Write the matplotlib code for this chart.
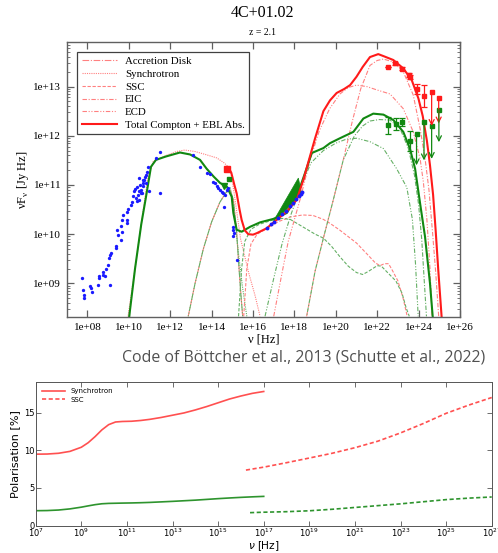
import matplotlib
matplotlib.use("Agg")
import matplotlib.pyplot as plt
import numpy as np
from matplotlib.ticker import FixedLocator, FuncFormatter, LogLocator, NullLocator

RED, LRED = "#ff1a1a", "#ff8080"
GREEN, LGREEN = "#118811", "#66b066"
BLUE = "#1a1aff"
FRAME = "#606060"

# ---- SED model curves, (log10 nu [Hz], log10 nuFnu [Jy Hz]) ----
disk_lnu = [12.87, 13.2, 13.6, 14.0, 14.4, 14.7, 14.9, 15.05, 15.2, 15.3, 15.4, 15.5]
disk_lf = [8.33, 9.0, 9.7, 10.25, 10.65, 10.85, 10.9, 10.7, 10.1, 9.45, 8.85, 8.33]

red_sync_lnu = [9.95, 10.3, 10.6, 10.9, 11.18, 11.8, 12.3, 12.7, 13.2, 13.7, 14.25,
                14.6, 14.9, 15.1, 15.4, 15.8, 16.1, 16.34]
red_sync_lf = [8.3, 9.3, 10.2, 11.1, 11.48, 11.6, 11.68, 11.71, 11.68, 11.62, 11.55,
               11.45, 11.33, 10.8, 9.9, 9.2, 8.75, 8.33]
green_sync_lnu = [14.9, 15.1, 15.3, 15.5, 15.7]
green_sync_lf = [10.95, 10.4, 9.6, 8.9, 8.33]

red_ssc_lnu = [15.55, 15.7, 15.9, 16.2, 16.7, 17.2, 17.8, 18.4, 18.9, 19.4, 19.72, 20.2,
               20.6, 21.0, 21.5, 21.9, 22.13, 22.35, 22.55, 22.75, 23.0, 23.25, 23.45]
red_ssc_lf = [8.33, 9.3, 9.8, 10.0, 10.12, 10.25, 10.35, 10.39, 10.38, 10.3, 10.22, 10.08,
              9.95, 9.82, 9.6, 9.42, 9.36, 9.4, 9.4, 9.25, 9.05, 8.7, 8.33]
green_ssc_lnu = [15.3, 15.45, 15.6, 15.9, 16.3, 16.9, 17.4, 17.8, 18.4, 19.0, 19.4, 19.8,
                 20.2, 20.6, 21.0, 21.3, 21.6, 22.0, 22.2, 22.5, 22.9, 23.2, 23.4, 23.55]
green_ssc_lf = [8.33, 9.3, 9.85, 10.1, 10.2, 10.28, 10.32, 10.3, 10.15, 10.0, 9.92, 9.75,
                9.54, 9.35, 9.22, 9.18, 9.25, 9.36, 9.35, 9.22, 9.05, 8.8, 8.5, 8.33]

red_ecd_lnu = [17.0, 17.35, 17.7, 18.27, 18.75, 19.2, 19.7, 20.2, 20.6, 21.0, 21.5, 22.0,
               22.62, 23.26, 23.74, 24.07, 24.23, 24.4, 24.55, 24.65]
red_ecd_lf = [8.33, 9.1, 9.85, 10.7, 11.5, 12.1, 12.55, 12.85, 12.98, 13.03, 13.0, 12.93,
              12.85, 12.55, 12.08, 11.54, 11.06, 10.3, 9.3, 8.33]
green_ecd_lnu = [16.58, 17.0, 17.4, 17.8, 18.3, 18.8, 19.4, 20.0, 20.5, 21.0, 21.65, 22.3,
                 22.94, 23.43, 23.7, 23.85, 23.98]
green_ecd_lf = [8.33, 9.1, 9.8, 10.36, 10.95, 11.45, 11.7, 11.85, 11.93, 11.95, 11.88,
                11.74, 11.33, 10.95, 10.3, 9.4, 8.33]

red_eic_lnu = [18.59, 19.0, 19.4, 19.88, 20.36, 20.8, 21.2, 21.65, 22.0, 22.3, 22.78, 23.26,
               23.74, 24.07, 24.31, 24.5, 24.68, 24.83, 24.97]
red_eic_lf = [8.33, 9.25, 9.92, 10.7, 11.51, 12.3, 12.95, 13.43, 13.53, 13.56, 13.5, 13.3,
              12.83, 12.15, 11.54, 10.9, 10.0, 9.2, 8.33]
green_eic_lnu = [18.59, 19.0, 19.4, 19.88, 20.36, 20.9, 21.3, 21.65, 22.1, 22.62, 23.1, 23.5,
                 23.8, 24.0, 24.15, 24.28, 24.38]
green_eic_lf = [8.33, 9.25, 9.92, 10.7, 11.51, 12.0, 12.2, 12.3, 12.33, 12.32, 12.15, 11.75,
                11.2, 10.6, 9.9, 9.0, 8.33]

red_tot_lnu = [14.85, 14.95, 15.1, 15.21, 15.35, 15.45, 15.6, 15.77, 16.0, 16.18, 16.66,
               17.14, 17.63, 18.11, 18.43, 18.75, 19.0, 19.4, 19.72, 20.04, 20.4, 20.69,
               21.0, 21.3, 21.65, 22.05, 22.3, 22.78, 23.26, 23.67, 23.99, 24.2, 24.4,
               24.55, 24.7, 24.82, 24.95, 25.11]
red_tot_lf = [11.32, 11.25, 11.0, 10.83, 10.5, 10.29, 10.08, 10.0, 9.99, 10.02, 10.12,
              10.29, 10.46, 10.7, 11.1, 11.58, 11.95, 12.5, 12.72, 12.87, 12.95, 13.03,
              13.2, 13.4, 13.6, 13.66, 13.62, 13.54, 13.37, 13.13, 12.76, 12.4, 11.9,
              11.4, 10.8, 10.1, 9.27, 8.33]
green_tot_lnu = [10.02, 10.3, 10.6, 10.83, 11.07, 11.31, 11.8, 12.47, 12.96, 13.44, 13.76,
                 14.1, 14.41, 14.73, 14.97, 15.05, 15.21, 15.45, 15.86, 16.34, 16.98, 17.63,
                 18.11, 18.51, 18.84, 19.4, 19.72, 20.2, 20.85, 21.33, 21.81, 22.3, 22.78,
                 23.26, 23.58, 23.83, 24.07, 24.31, 24.55, 24.68]
green_tot_lf = [8.33, 9.3, 10.2, 10.76, 11.37, 11.51, 11.58, 11.66, 11.62, 11.51, 11.33,
                11.17, 11.04, 10.97, 10.76, 10.43, 10.09, 10.05, 10.15, 10.24, 10.31, 10.43,
                10.76, 11.24, 11.65, 11.75, 11.85, 11.95, 12.08, 12.35, 12.45, 12.43, 12.32,
                12.08, 11.74, 11.33, 10.63, 9.95, 9.0, 8.33]

# ---- observations ----
radio_lnu = [7.74, 7.80, 7.85, 7.85, 8.13, 8.22, 8.17, 8.50, 8.54, 8.58, 8.74, 8.77, 8.87,
             8.90, 8.98, 9.09, 9.06, 9.11, 9.14, 9.38, 9.38, 9.41, 9.46, 9.62, 9.62, 9.66,
             9.70, 9.67, 9.90, 9.91, 9.93, 9.96, 10.11, 10.15, 10.19, 10.27, 10.32, 10.35,
             10.40, 10.43, 10.48, 10.51, 10.54, 10.59, 10.59, 10.67, 10.70, 10.75, 10.77,
             10.83, 10.86, 10.91, 10.96, 10.51, 10.67, 10.83, 11.31, 11.51, 11.52, 10.64, 10.38]
radio_lf = [9.11, 8.87, 8.77, 8.70, 8.95, 8.82, 8.90, 8.97, 9.11, 9.14, 9.24, 9.17, 9.14,
            9.29, 9.38, 8.97, 9.51, 9.58, 9.61, 9.75, 9.71, 10.09, 9.99, 9.88, 10.16, 10.29,
            10.39, 10.05, 10.22, 10.29, 10.46, 10.51, 10.60, 10.66, 10.77, 10.87, 10.91, 10.73,
            10.95, 10.80, 10.70, 10.87, 11.0, 10.90, 10.83, 10.97, 11.04, 11.10, 11.17,
            11.21, 11.27, 11.37, 10.87, 11.14, 11.10, 11.04, 11.54, 11.68, 10.83, 10.83, 10.68]
opt_lnu = [13.12, 13.44, 13.76, 13.92, 14.08, 14.17, 14.25, 14.33, 14.41, 14.49, 14.57,
           14.65, 14.73, 14.81, 14.61, 15.05, 15.05, 15.08, 15.05, 15.24]
opt_lf = [11.6, 11.37, 11.24, 11.22, 11.07, 11.04, 10.97, 10.94, 10.90, 10.86, 10.83, 10.8,
          10.9, 10.93, 10.56, 10.15, 10.08, 10.02, 9.96, 9.48]
xray_lnu = [16.66, 16.85, 17.0, 17.2, 17.4, 17.6, 17.8, 17.95, 18.1, 18.2, 18.3, 18.38]
xray_lf = [10.12, 10.2, 10.25, 10.32, 10.4, 10.48, 10.57, 10.64, 10.72, 10.77, 10.82, 10.85]
bowtie_lnu = [16.98, 18.19, 18.35, 16.98]
bowtie_lf = [10.26, 11.14, 10.83, 10.22]

red_lat_lnu = [22.54, 22.88, 23.22, 23.53, 23.57, 23.9, 24.26]
red_lat_lf = [13.40, 13.47, 13.36, 13.24, 13.19, 12.95, 12.81]
red_lat_err = [0.0, 0.03, 0.03, 0.04, 0.04, 0.1, 0.22]
red_ul_lnu = [24.63, 24.97]
red_ul_lf = [12.88, 12.77]
red_ul_to = [12.2, 12.25]
green_lat_lnu = [22.52, 22.89, 23.22, 23.58]
green_lat_lf = [12.21, 12.24, 12.28, 11.9]
green_lat_err = [0.17, 0.12, 0.09, 0.2]
green_ul_lnu = [23.9, 24.26, 24.63, 24.98]
green_ul_lf = [12.04, 12.27, 12.2, 12.53]
green_ul_to = [11.4, 11.5, 11.53, 11.87]

# ---- polarisation panel ----
pol_sync_lnu = [7, 7.5, 8, 8.5, 9, 9.3, 9.6, 9.9, 10.2, 10.5, 10.8, 11.2, 11.6, 12, 12.5,
                13, 13.5, 14, 14.5, 15, 15.5, 16, 16.5, 17]
pol_sync_red = [9.48, 9.5, 9.6, 9.85, 10.4, 11.0, 11.8, 12.7, 13.4, 13.75, 13.82, 13.85,
                13.95, 14.1, 14.35, 14.65, 14.95, 15.35, 15.8, 16.3, 16.8, 17.2, 17.55, 17.8]
pol_sync_green = [1.98, 2.0, 2.07, 2.22, 2.45, 2.62, 2.78, 2.9, 2.95, 2.97, 2.99, 3.01,
                  3.04, 3.08, 3.15, 3.22, 3.3, 3.38, 3.48, 3.58, 3.67, 3.75, 3.82, 3.88]
pol_ssc_red_lnu = [16.22, 17, 18, 19, 20, 21, 22, 23, 24, 25, 26, 27]
pol_ssc_red = [7.37, 7.76, 8.35, 8.97, 9.6, 10.34, 11.2, 12.3, 13.55, 14.9, 16.0, 17.0]
pol_ssc_green_lnu = [16.4, 17, 18, 19, 20, 21, 22, 23, 24, 25, 26, 27]
pol_ssc_green = [1.72, 1.78, 1.85, 1.97, 2.17, 2.41, 2.65, 2.89, 3.17, 3.45, 3.65, 3.8]

P = lambda a: 10.0 ** np.asarray(a)

fig = plt.figure(figsize=(4.98, 5.53), dpi=100)
ax = fig.add_axes([0.134, 0.4262, 0.7897, 0.4973])
serif = "Liberation Serif"

lw_thin = 0.8
st_disk = (0, (6, 1.5, 1, 1.5))
st_sync = (0, (1, 1))
st_ssc = (0, (3, 1.5))
st_eic = (0, (4, 1.5, 1, 1.5))
st_ecd = (0, (4, 1.5, 1, 1.5, 1, 1.5))

ax.plot(P(disk_lnu), P(disk_lf), color=LRED, lw=lw_thin, ls=st_disk, label="Accretion Disk")
ax.plot(P(disk_lnu), P(disk_lf), color=LGREEN, lw=lw_thin, ls=(5, (6, 1.5, 1, 1.5)))
ax.plot(P(red_sync_lnu), P(red_sync_lf), color=LRED, lw=lw_thin, ls=st_sync, label="Synchrotron")
ax.plot(P(green_sync_lnu), P(green_sync_lf), color=LGREEN, lw=lw_thin, ls=st_sync)
ax.plot(P(red_ssc_lnu), P(red_ssc_lf), color=LRED, lw=lw_thin, ls=st_ssc, label="SSC")
ax.plot(P(green_ssc_lnu), P(green_ssc_lf), color=LGREEN, lw=lw_thin, ls=st_ssc)
ax.plot(P(red_eic_lnu), P(red_eic_lf), color=LRED, lw=lw_thin, ls=st_eic, label="EIC")
ax.plot(P(green_eic_lnu), P(green_eic_lf), color=LGREEN, lw=lw_thin, ls=(4, (4, 1.5, 1, 1.5)))
ax.plot(P(red_ecd_lnu), P(red_ecd_lf), color=LRED, lw=lw_thin, ls=st_ecd, label="ECD")
ax.plot(P(green_ecd_lnu), P(green_ecd_lf), color=LGREEN, lw=lw_thin, ls=st_ecd)

ax.plot(P(green_tot_lnu), P(green_tot_lf), color=GREEN, lw=1.5)
ax.plot(P(red_tot_lnu), P(red_tot_lf), color=RED, lw=1.5, label="Total Compton + EBL Abs.")

# data
ax.plot(P(radio_lnu), P(radio_lf), "o", color=BLUE, ms=2.4, mec="none")
ax.plot(P(opt_lnu), P(opt_lf), "o", color=BLUE, ms=2.4, mec="none")
ax.fill(P(bowtie_lnu), P(bowtie_lf), color=GREEN, lw=0.5)
ax.plot(P(xray_lnu), P(xray_lf), "o", color=BLUE, ms=2.8, mec="none")
ax.plot(P([14.72]), P([11.32]), "s", color=RED, ms=4)
ax.plot(P([14.82]), P([11.12]), "s", color=GREEN, ms=3.5)
ax.plot(P([14.62]), P([10.98]), "v", color=GREEN, ms=5)

def lat(lnu, lf, err, col):
    lnu, lf, err = map(np.asarray, (lnu, lf, err))
    y = P(lf)
    ax.errorbar(P(lnu), y, yerr=[y - P(lf - err), P(lf + err) - y], fmt="s",
                color=col, ms=3.5, elinewidth=0.9, capsize=2, capthick=0.9)

def ul(lnu, lf, to, col):
    for n, f, t in zip(lnu, lf, to):
        ax.annotate("", xy=(P(n), P(t)), xytext=(P(n), P(f)),
                    arrowprops=dict(arrowstyle="->", color=col, lw=0.9,
                                    mutation_scale=9, shrinkA=0, shrinkB=0))
    ax.plot(P(lnu), P(lf), "s", color=col, ms=3.5)

lat(red_lat_lnu, red_lat_lf, red_lat_err, RED)
ul(red_ul_lnu, red_ul_lf, red_ul_to, RED)
lat(green_lat_lnu, green_lat_lf, green_lat_err, GREEN)
ul(green_ul_lnu, green_ul_lf, green_ul_to, GREEN)

ax.set_xscale("log"); ax.set_yscale("log")
ax.set_xlim(1e7, 1e26); ax.set_ylim(10 ** 8.31, 10 ** 13.9)
ax.xaxis.set_major_locator(FixedLocator(P(np.arange(8, 27, 2))))
ax.xaxis.set_minor_locator(NullLocator())
ax.yaxis.set_major_locator(FixedLocator(P(np.arange(9, 14))))
ax.yaxis.set_minor_locator(LogLocator(base=10, subs=np.arange(2, 10)))
fmt = FuncFormatter(lambda v, p: f"{v:.0e}")
ax.xaxis.set_major_formatter(fmt); ax.yaxis.set_major_formatter(fmt)
ax.yaxis.set_minor_formatter(FuncFormatter(lambda v, p: ""))
ax.tick_params(which="both", direction="in", top=True, right=True, color=FRAME,
               labelsize=8, pad=4)
ax.tick_params(which="major", length=5, width=0.9)
ax.tick_params(which="minor", length=2.5, width=0.6)
for lab in ax.get_xticklabels() + ax.get_yticklabels():
    lab.set_family(serif)
for s in ax.spines.values():
    s.set_color(FRAME); s.set_linewidth(1.0)
ax.set_xlabel("ν [Hz]", family=serif, fontsize=9, labelpad=1)
ax.set_ylabel(r"νF$_\mathregular{ν}$ [Jy Hz]", family=serif, fontsize=9, labelpad=2)
fig.text(0.528, 0.976, "4C+01.02", family=serif, fontsize=11.5, ha="center", va="center")
fig.text(0.528, 0.942, "z = 2.1", family=serif, fontsize=7, ha="center", va="center")
leg = ax.legend(loc="upper left", bbox_to_anchor=(0.027, 0.965), borderaxespad=0,
                prop=dict(family=serif, size=7.8), handlelength=3.3, labelspacing=0.3,
                fancybox=False, framealpha=1, edgecolor="#404040", borderpad=0.4,
                handletextpad=0.7)
leg.get_frame().set_linewidth(0.9)

fig.text(0.61, 0.354, "Code of Böttcher et al., 2013 (Schutte et al., 2022)",
         family="Open Sans", fontsize=11.4, color="#505050", ha="center", va="center")

# ---- bottom panel ----
bx = fig.add_axes([0.0717, 0.0495, 0.9157, 0.2603])
bx.plot(P(pol_sync_lnu), pol_sync_red, color="#ff5050", lw=1.2, label="Synchrotron")
bx.plot(P(pol_ssc_red_lnu), pol_ssc_red, color="#ff5050", lw=1.2, ls=(0, (2.5, 1.5)),
        label="SSC")
bx.plot(P(pol_sync_lnu), pol_sync_green, color="#2e942e", lw=1.2)
bx.plot(P(pol_ssc_green_lnu), pol_ssc_green, color="#2e942e", lw=1.2, ls=(0, (2.5, 1.5)))
bx.set_xscale("log")
bx.set_xlim(1e7, 1e27); bx.set_ylim(0, 19.1)
bx.xaxis.set_major_locator(FixedLocator(P(np.arange(7, 28, 2))))
bx.xaxis.set_minor_locator(NullLocator())
bx.xaxis.set_major_formatter(FuncFormatter(lambda v, p: rf"$10^{{{int(round(np.log10(v)))}}}$"))
bx.set_yticks([0, 5, 10, 15])
bx.tick_params(which="both", direction="in", top=True, right=True, labelsize=6.0,
               length=3.5, width=0.6, color="#555555", pad=1.0)
for s in bx.spines.values():
    s.set_color("#555555"); s.set_linewidth(0.7)
bx.set_xlabel(r"$\nu$ [Hz]", fontsize=7.6)
bx.xaxis.set_label_coords(0.5, -0.097)
bx.set_ylabel("Polarisation [%]", fontsize=8, labelpad=3)
bx.legend(loc="upper left", frameon=False, fontsize=5, handlelength=3.3,
          borderaxespad=0.5, labelspacing=0.4)

fig.savefig("out.png", dpi=100)
